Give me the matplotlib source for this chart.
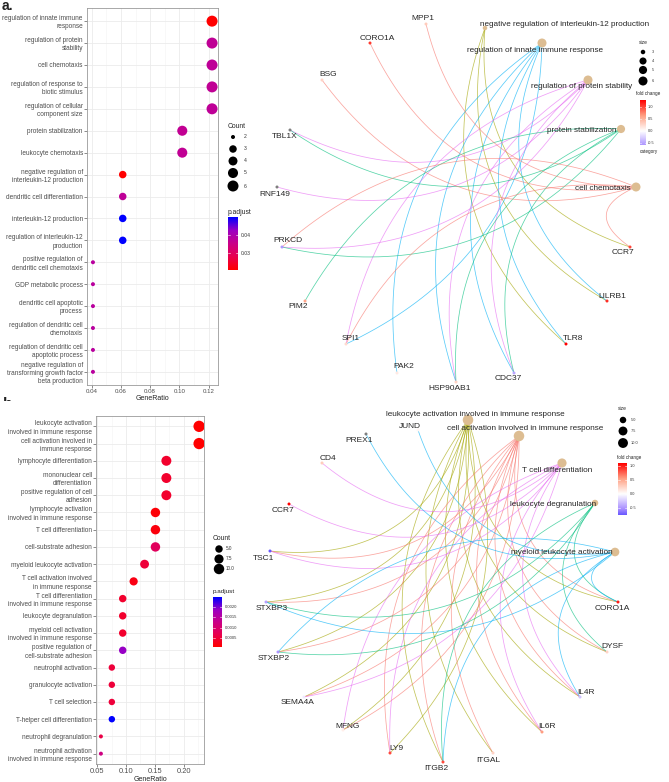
import numpy as np
import matplotlib
matplotlib.use("Agg")
import matplotlib.pyplot as plt
from matplotlib.colors import LinearSegmentedColormap
from matplotlib.patches import Rectangle

plt.rcParams['font.family'] = ['Liberation Sans', 'DejaVu Sans']

W, H = 669, 782

# ---------------- panel a : GO dotplot ----------------
a_terms = [
    "regulation of innate immune\nresponse", "regulation of protein\nstability", "cell chemotaxis",
    "regulation of response to\nbiotic stimulus", "regulation of cellular\ncomponent size",
    "protein stabilization", "leukocyte chemotaxis",
    "negative regulation of\ninterleukin-12 production", "dendritic cell differentiation",
    "interleukin-12 production", "regulation of interleukin-12\nproduction",
    "positive regulation of\ndendritic cell chemotaxis", "GDP metabolic process",
    "dendritic cell apoptotic\nprocess", "regulation of dendritic cell\nchemotaxis",
    "regulation of dendritic cell\napoptotic process",
    "negative regulation of\ntransforming growth factor\nbeta production",
]
a_ratio = [0.1224, 0.1224, 0.1224, 0.1224, 0.1224, 0.1020, 0.1020, 0.0612, 0.0612,
           0.0612, 0.0612, 0.0408, 0.0408, 0.0408, 0.0408, 0.0408, 0.0408]
a_count = [6, 6, 6, 6, 6, 5, 5, 3, 3, 3, 3, 2, 2, 2, 2, 2, 2]
a_padj = [0.0206, 0.0370, 0.0372, 0.0368, 0.0372, 0.0366, 0.0368, 0.0206, 0.0372,
          0.0500, 0.0500, 0.0380, 0.0380, 0.0380, 0.0380, 0.0380, 0.0380]
a_count_keys = [2, 3, 4, 5, 6]
a_padj_ticks = [0.03, 0.04]

# ---------------- panel b : GO dotplot ----------------
b_terms = [
    "leukocyte activation\ninvolved in immune response", "cell activation involved in\nimmune response",
    "lymphocyte differentiation", "mononuclear cell\ndifferentiation",
    "positive regulation of cell\nadhesion", "lymphocyte activation\ninvolved in immune response",
    "T cell differentiation", "cell-substrate adhesion", "myeloid leukocyte activation",
    "T cell activation involved\nin immune response", "T cell differentiation\ninvolved in immune response",
    "leukocyte degranulation", "myeloid cell activation\ninvolved in immune response",
    "positive regulation of\ncell-substrate adhesion", "neutrophil activation",
    "granulocyte activation", "T cell selection", "T-helper cell differentiation",
    "neutrophil degranulation", "neutrophil activation\ninvolved in immune response",
]
b_ratio = [0.2264, 0.2264, 0.1698, 0.1698, 0.1698, 0.1509, 0.1509, 0.1509, 0.1321, 0.1132,
           0.0943, 0.0943, 0.0943, 0.0943, 0.0755, 0.0755, 0.0755, 0.0755, 0.0566, 0.0566]
b_count = [12, 12, 9, 9, 9, 8, 8, 8, 7, 6, 5, 5, 5, 5, 4, 4, 4, 4, 3, 3]
b_padj = [0.00005, 0.00005, 0.0004, 0.0004, 0.0004, 0.0001, 0.00015, 0.0008, 0.0005, 0.0002,
          0.0004, 0.0004, 0.0004, 0.0019, 0.0005, 0.0005, 0.0005, 0.0025, 0.0006, 0.0012]
b_count_keys = [5.0, 7.5, 10.0]
b_padj_ticks = [0.0005, 0.0010, 0.0015, 0.0020]

# ---------------- panel a : gene-concept network ----------------
a_cats = ["negative regulation of interleukin-12 production", "regulation of innate immune response",
          "regulation of protein stability", "protein stabilization", "cell chemotaxis"]
a_cat_col = ['#A3A500', '#00B0F6', '#E76BF3', '#00BF7D', '#F8766D']
a_cat_x = [485, 542, 588, 621, 636]
a_cat_y = [28, 43, 80, 129, 187]
a_cat_lx = [565, 535, 582, 582, 603]
a_cat_ly = [25, 51, 87, 131, 188]
a_genes = ["MPP1", "CORO1A", "BSG", "TBL1X", "RNF149", "PRKCD", "PIM2", "SPI1", "PAK2",
           "HSP90AB1", "CDC37", "TLR8", "LILRB1", "CCR7"]
a_gene_x = [426, 370, 322, 290, 277, 282, 305, 346, 397, 456, 514, 566, 607, 630]
a_gene_y = [24, 43, 80, 130, 187, 247, 301, 344, 373, 382, 373, 344, 301, 247]
a_gene_lx = [423, 377, 328, 285, 275, 288, 298, 351, 404, 450, 508, 573, 612, 623]
a_gene_ly = [18, 38, 75, 137, 195, 241, 307, 339, 367, 389, 379, 339, 296, 252]
a_gene_fc = [0.35, 1.05, 0.3, np.nan, np.nan, -0.58, 0.6, 0.25, 0.15, 0.3, -0.5, 1.29, 1.1, 1.0]
a_members = [
    ["TLR8", "LILRB1", "CCR7"],
    ["SPI1", "PAK2", "HSP90AB1", "CDC37", "TLR8", "LILRB1"],
    ["TBL1X", "RNF149", "PRKCD", "SPI1", "HSP90AB1", "CDC37"],
    ["TBL1X", "PIM2", "HSP90AB1", "CDC37", "PRKCD"],
    ["MPP1", "CORO1A", "BSG", "PRKCD", "CCR7", "SPI1"],
]
a_size_keys = [3, 4, 5, 6]
a_fc_ticks = [1.0, 0.5, 0.0, -0.5]

# ---------------- panel b : gene-concept network ----------------
b_cats = ["leukocyte activation involved in immune response", "cell activation involved in immune response",
          "T cell differentiation", "leukocyte degranulation", "myeloid leukocyte activation"]
b_cat_col = ['#A3A500', '#F8766D', '#E76BF3', '#00BF7D', '#00B0F6']
b_cat_x = [468, 519, 562, 595, 615]
b_cat_y = [420, 436, 463, 503, 552]
b_cat_lx = [475, 525, 557, 553, 562]
b_cat_ly = [414, 429, 470, 504, 552]
b_genes = ["JUND", "PREX1", "CD4", "CCR7", "TSC1", "STXBP3", "STXBP2", "SEMA4A", "MFNG", "LY9",
           "ITGB2", "ITGAL", "IL6R", "IL4R", "DYSF", "CORO1A"]
b_gene_x = [418, 366, 322, 289, 270, 266, 278, 304, 343, 390, 443, 493, 542, 580, 607, 618]
b_gene_y = [430, 434, 463, 504, 551, 602, 652, 697, 730, 753, 762, 753, 732, 697, 652, 602]
b_gene_lx = [410, 359, 328, 283, 264, 272, 274, 298, 348, 396, 436, 488, 547, 586, 612, 612]
b_gene_ly = [427, 441, 458, 510, 558, 608, 659, 703, 727, 749, 768, 761, 727, 692, 647, 609]
b_gene_fc = [0.05, np.nan, 0.3, 1.1, -0.75, -0.45, -0.5, -0.1, 0.1, 0.85, 0.85, 0.25, 0.55, -0.3, 0.25, 1.0]
b_shared = ["TSC1", "STXBP3", "STXBP2", "SEMA4A", "MFNG", "LY9", "ITGB2", "ITGAL", "IL6R", "IL4R",
            "DYSF", "CORO1A"]
b_members = [
    b_shared,
    b_shared,
    ["CD4", "CCR7", "TSC1", "SEMA4A", "MFNG", "LY9", "IL6R", "IL4R"],
    ["STXBP3", "STXBP2", "DYSF", "CORO1A", "ITGB2"],
    ["JUND", "PREX1", "STXBP3", "STXBP2", "ITGB2", "CORO1A", "IL4R"],
]
b_size_keys = [5.0, 7.5, 10.0]
b_fc_ticks = [1.0, 0.5, 0.0, -0.5]

padj_cmap = LinearSegmentedColormap.from_list('padj', ['#FF0000', '#E8004F', '#CA0088', '#9B00C3', '#0000FF'])
fc_cmap = LinearSegmentedColormap.from_list('fc', ['#0000FF', '#A68CFF', '#FFFFFF', '#FFA083', '#FF0000'])
TXT = '#262626'


def px_rect(x0, y0, x1, y1):
    return [x0 / W, 1 - y1 / H, (x1 - x0) / W, (y1 - y0) / H]


def diam(c, cmin, cmax, dmin, dmax):
    t = (np.asarray(c, float) - cmin) / (cmax - cmin)
    return dmin + (dmax - dmin) * np.sqrt(np.clip(t, 0, 1))


def area(d):
    return (np.asarray(d) * 0.72) ** 2


fig = plt.figure(figsize=(W / 100, H / 100), dpi=100)


def dotplot(box, terms, ratio, count, padj, major, minor, tick_fs, drng):
    ax = fig.add_axes(px_rect(*box))
    n = len(terms)
    y = np.arange(n)
    ratio = np.array(ratio)
    pad = 0.05 * (ratio.max() - ratio.min())
    ax.set_xlim(ratio.min() - pad, ratio.max() + pad)
    ax.set_ylim(n - 0.4, -0.6)
    ax.set_xticks(major)
    ax.set_xticks(minor, minor=True)
    ax.set_xticklabels([f'{v:.2f}' for v in major], fontsize=tick_fs, color='#4D4D4D')
    ax.set_yticks(y)
    ax.set_yticklabels(terms, fontsize=4.7, color='#4D4D4D', linespacing=1.25)
    ax.grid(which='major', color='#EBEBEB', lw=0.6)
    ax.grid(which='minor', axis='x', color='#F4F4F4', lw=0.4)
    ax.set_axisbelow(True)
    ax.tick_params(which='major', length=2, width=0.4, color='#333333', pad=1)
    ax.tick_params(which='minor', length=0)
    for s in ax.spines.values():
        s.set_color('#9A9A9A')
        s.set_linewidth(0.6)
    ax.set_xlabel('GeneRatio', fontsize=5, labelpad=0.5, color='#222222')
    d = diam(count, min(count), max(count), *drng)
    ax.scatter(ratio, y, s=area(d), c=padj, cmap=padj_cmap, vmin=min(padj), vmax=max(padj),
               edgecolors='none', zorder=3)
    return ax


dotplot((87, 8, 218, 385), a_terms, a_ratio, a_count, a_padj,
        [0.04, 0.06, 0.08, 0.10, 0.12], [0.05, 0.07, 0.09, 0.11], 4.4, (4, 11))
dotplot((96, 416, 204, 764), b_terms, b_ratio, b_count, b_padj,
        [0.05, 0.10, 0.15, 0.20], [0.075, 0.125, 0.175, 0.225], 5.4, (4, 11.3))

# overlay in pixel units for networks and legends
ov = fig.add_axes([0, 0, 1, 1])
ov.axis('off')


def colorbar(x0, x1, yt, yb, vmin, vmax, colfun, ticks, labels, fs, lab_x):
    v = np.linspace(vmax, vmin, 120)
    img = colfun(v)[:, None, :]
    ov.imshow(img, extent=(x0, x1, yb, yt), aspect='auto', origin='upper', zorder=2)
    for t, lab in zip(ticks, labels):
        yy = yb - (t - vmin) / (vmax - vmin) * (yb - yt)
        w = (x1 - x0) * 0.2
        ov.plot([x0, x0 + w], [yy, yy], color='white', lw=0.4, zorder=3)
        ov.plot([x1 - w, x1], [yy, yy], color='white', lw=0.4, zorder=3)
        ov.text(lab_x, yy, lab, fontsize=fs, va='center', ha='left', color='#333333')


def arc(p0, p1, c, color):
    p0, p1 = np.array(p0, float), np.array(p1, float)
    mid = (p0 + p1) / 2
    chord = np.linalg.norm(p1 - p0)
    to_c = c - mid
    dist = np.linalg.norm(to_c)
    dv = (p1 - p0) / chord
    perp = np.array([-dv[1], dv[0]])
    if perp @ to_c < 0:
        perp = -perp
    bend = 0.15 * chord + 0.1 * dist
    ctrl = mid + 2 * bend * perp
    t = np.linspace(0, 1, 50)[:, None]
    pts = (1 - t) ** 2 * p0 + 2 * (1 - t) * t * ctrl + t ** 2 * p1
    ov.plot(pts[:, 0], pts[:, 1], color=color, lw=0.55, alpha=0.65, zorder=1,
            solid_capstyle='round')


def network(cats, cat_col, cx, cy, clx, cly, genes, gx, gy, glx, gly, gfc, members, drng, ckeys):
    pos = {g: (x, y) for g, x, y in zip(genes, gx, gy)}
    allx, ally = cx + gx, cy + gy
    c = np.array([(min(allx) + max(allx)) / 2, (min(ally) + max(ally)) / 2])
    for ci, cat in enumerate(cats):
        for g in members[ci]:
            arc((cx[ci], cy[ci]), pos[g], c, cat_col[ci])
    counts = [len(m) for m in members]
    lo, hi = min(ckeys), max(ckeys)
    ov.scatter(cx, cy, s=area(diam(counts, lo, hi, *drng)), color='#DDBD92', edgecolors='none', zorder=3)
    fc = np.array(gfc, float)
    mabs = np.nanmax(np.abs(fc))
    cols = ['#7F7F7F' if np.isnan(v) else fc_cmap(0.5 + v / (2 * mabs)) for v in fc]
    ov.scatter(gx, gy, s=area(3), c=cols, edgecolors='none', zorder=3)
    for cat, x, y in zip(cats, clx, cly):
        ov.text(x, y, cat, fontsize=5.9, ha='center', va='center', color=TXT, zorder=4)
    for g, x, y in zip(genes, glx, gly):
        ov.text(x, y, g, fontsize=6.0, ha='center', va='center', color=TXT, zorder=4)
    fmin, fmax = np.nanmin(fc), np.nanmax(fc)
    return fmin, fmax, mabs


# ---- network a ----
fa = network(a_cats, a_cat_col, a_cat_x, a_cat_y, a_cat_lx, a_cat_ly, a_genes, a_gene_x, a_gene_y,
             a_gene_lx, a_gene_ly, a_gene_fc, a_members, (4.5, 9), a_size_keys)
ov.text(639, 43, 'size', fontsize=3.5, ha='left', va='center', color=TXT)
for k, yy in zip(a_size_keys, [52, 61, 70, 81]):
    ov.scatter([643], [yy], s=area(diam(k, 3, 6, 4.5, 9)), color='black', edgecolors='none')
    ov.text(652, yy, str(k), fontsize=2.8, va='center', color='#333333')
ov.text(636, 94, 'fold change', fontsize=3.3, ha='left', va='center', color=TXT)
colorbar(640, 646, 100, 145, fa[0], fa[1], lambda v: fc_cmap(0.5 + v / (2 * fa[2])),
         a_fc_ticks, ['1.0', '0.5', '0.0', '-0.5'], 2.8, 648)
ov.text(640, 152, 'category', fontsize=3.3, ha='left', va='center', color=TXT)

# ---- network b ----
fb = network(b_cats, b_cat_col, b_cat_x, b_cat_y, b_cat_lx, b_cat_ly, b_genes, b_gene_x, b_gene_y,
             b_gene_lx, b_gene_ly, b_gene_fc, b_members, (6.5, 10.5), [5, 12])
ov.text(618, 409, 'size', fontsize=3.5, ha='left', va='center', color=TXT)
for k, yy in zip(b_size_keys, [420, 431, 443]):
    ov.scatter([623], [yy], s=area(diam(k, 5, 12, 6.5, 10.5)), color='black', edgecolors='none')
    ov.text(631, yy, f'{k:.1f}', fontsize=2.8, va='center', color='#333333')
ov.text(617, 458, 'fold change', fontsize=3.3, ha='left', va='center', color=TXT)
colorbar(618, 627, 463, 515, fb[0], fb[1], lambda v: fc_cmap(0.5 + v / (2 * fb[2])),
         b_fc_ticks, ['1.0', '0.5', '0.0', '-0.5'], 2.8, 630)

# ---- dotplot legends ----
ov.text(228, 127, 'Count', fontsize=4.9, ha='left', va='center', color=TXT)
for k, yy in zip(a_count_keys, [137, 149, 161, 173, 186]):
    ov.scatter([233], [yy], s=area(diam(k, 2, 6, 4, 11)), color='black', edgecolors='none')
    ov.text(244, yy, str(k), fontsize=3.6, va='center', color='#333333')
ov.text(228, 212, 'p.adjust', fontsize=4.9, ha='left', va='center', color=TXT)
pa0, pa1 = min(a_padj), max(a_padj)
colorbar(228, 238, 217, 270, pa0, pa1, lambda v: padj_cmap((v - pa0) / (pa1 - pa0)),
         a_padj_ticks, ['0.03', '0.04'], 3.6, 241)

ov.text(213, 538, 'Count', fontsize=4.9, ha='left', va='center', color=TXT)
for k, yy in zip(b_count_keys, [549, 559, 569]):
    ov.scatter([219], [yy], s=area(diam(k, 3, 12, 4, 11.3)), color='black', edgecolors='none')
    ov.text(226, yy, f'{k:.1f}', fontsize=3.3, va='center', color='#333333')
ov.text(213, 592, 'p.adjust', fontsize=4.6, ha='left', va='center', color=TXT)
pb0, pb1 = min(b_padj), max(b_padj)
colorbar(213, 222, 597, 647, pb0, pb1, lambda v: padj_cmap((v - pb0) / (pb1 - pb0)),
         b_padj_ticks, ['0.0005', '0.0010', '0.0015', '0.0020'], 3.0, 225)

# panel letters
ov.text(2, 10, 'a.', fontsize=10, fontweight='bold', ha='left', va='baseline', color='#222222')
ov.text(3, 408, 'b.', fontsize=11, fontweight='bold', ha='left', va='baseline', color='#222222')
ov.add_patch(Rectangle((0, 401), 40, 12, facecolor='white', edgecolor='none', zorder=5))

ov.set_xlim(0, W)
ov.set_ylim(H, 0)

fig.savefig('out.png', dpi=100, facecolor='white')
